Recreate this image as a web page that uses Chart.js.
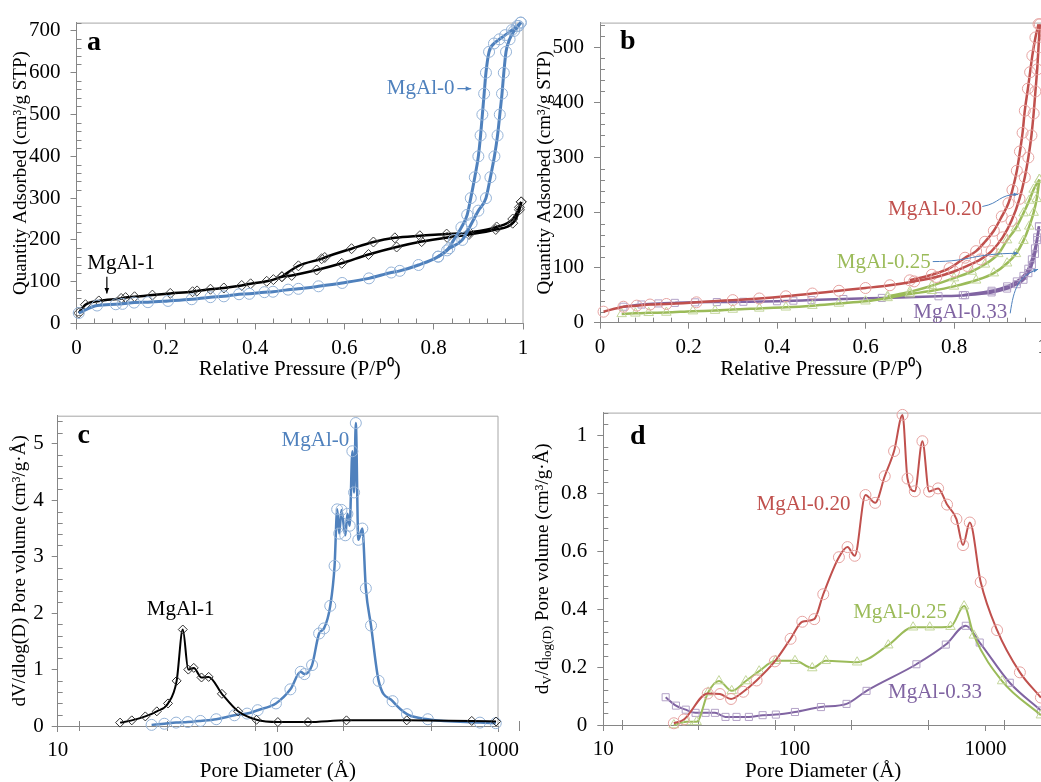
<!DOCTYPE html>
<html>
<head>
<meta charset="utf-8">
<script src="https://cdn.jsdelivr.net/npm/chart.js@4.4.0/dist/chart.umd.min.js"></script>
<style>
html, body { margin: 0; padding: 0; background: #fff; overflow: hidden; }
#wrap { position: relative; width: 1041px; height: 782px; overflow: hidden; }
canvas { position: absolute; }
</style>
</head>
<body>
<div id="wrap">
  <canvas id="chartA" width="535" height="390" style="left:0;top:0"></canvas>
  <canvas id="chartB" width="535" height="390" style="left:525px;top:0"></canvas>
  <canvas id="chartC" width="525" height="392" style="left:0;top:390px"></canvas>
  <canvas id="chartD" width="535" height="392" style="left:525px;top:390px"></canvas>
</div>
<script>
// ---------- panel a : isotherms, MgAl-0 / MgAl-1 ----------
const aXTicks = [0, 0.2, 0.4, 0.6, 0.8, 1];
const aYTicks = [0, 100, 200, 300, 400, 500, 600, 700];
const aMgAl0Ads = [[0.005,25],[0.046,43],[0.088,46],[0.103,47],[0.129,50],[0.16,51],[0.205,54],[0.258,58],[0.30,63],[0.33,65],[0.364,70],[0.387,71],[0.421,75],[0.44,76],[0.474,81],[0.497,83],[0.542,89],[0.595,97],[0.655,108],[0.705,122],[0.724,126],[0.766,140],[0.81,160],[0.835,180],[0.864,200],[0.885,240],[0.9,270],[0.917,300],[0.927,350],[0.936,400],[0.943,450],[0.948,500],[0.953,550],[0.957,600],[0.962,650],[0.97,680],[0.98,700],[0.99,712],[0.995,720]];
const aMgAl0Des = [[0.81,160],[0.83,175],[0.845,200],[0.862,230],[0.875,260],[0.883,300],[0.892,350],[0.9,400],[0.905,450],[0.909,500],[0.913,550],[0.917,600],[0.924,650],[0.935,670],[0.947,680],[0.96,690],[0.975,702],[0.987,712],[0.995,720]];
const aMgAl1Ads = [[0.005,25],[0.02,45],[0.05,54],[0.1,60],[0.11,62],[0.13,64],[0.17,68],[0.21,72],[0.26,76],[0.27,78],[0.3,82],[0.33,85],[0.37,91],[0.39,95],[0.426,101],[0.441,105],[0.46,112],[0.482,115],[0.538,128],[0.594,144],[0.654,165],[0.717,183],[0.773,196],[0.83,206],[0.879,213],[0.939,225],[0.977,240],[0.992,272],[0.996,291]];
const aMgAl1Des = [[0.46,112],[0.497,138],[0.549,155],[0.556,158],[0.616,179],[0.665,195],[0.713,205],[0.769,210],[0.829,214],[0.88,218],[0.941,231],[0.977,250],[0.992,278],[0.996,291]];

// ---------- panel b : isotherms, MgAl-0.20 / 0.25 / 0.33 ----------
const bXTicks = [0, 0.2, 0.4, 0.6, 0.8, 1];
const bYTicks = [0, 100, 200, 300, 400, 500];
const b020Ads = [[0.008,20],[0.053,29],[0.083,31],[0.113,33],[0.15,34],[0.218,37],[0.3,41],[0.36,44],[0.42,48],[0.48,53],[0.54,58],[0.6,63],[0.655,68],[0.71,75],[0.76,83],[0.8,93],[0.83,103],[0.86,115],[0.885,130],[0.91,155],[0.93,185],[0.948,225],[0.96,264],[0.968,300],[0.975,340],[0.98,380],[0.984,420],[0.988,460],[0.991,500],[0.994,542]];
const b020Des = [[0.7,77],[0.75,87],[0.79,99],[0.825,118],[0.85,130],[0.87,147],[0.89,167],[0.908,193],[0.923,217],[0.932,241],[0.942,276],[0.949,311],[0.955,345],[0.96,385],[0.967,425],[0.972,455],[0.977,485],[0.984,518],[0.991,542]];
const b025Ads = [[0.049,16],[0.08,17],[0.11,18],[0.15,18.5],[0.21,21],[0.26,22],[0.3,24],[0.36,26],[0.42,28],[0.48,31],[0.54,35],[0.6,39],[0.65,45],[0.7,52],[0.75,58],[0.8,66],[0.85,77],[0.89,90],[0.92,108],[0.94,125],[0.957,149],[0.97,175],[0.98,200],[0.987,225],[0.993,260]];
const b025Des = [[0.65,48],[0.7,56],[0.75,67],[0.8,81],[0.84,93],[0.87,106],[0.9,125],[0.92,150],[0.94,172],[0.957,199],[0.97,222],[0.98,242],[0.993,260]];
const b033Ads = [[0.053,29],[0.094,33],[0.132,35],[0.169,36],[0.215,37],[0.264,37.5],[0.324,38],[0.4,39],[0.437,40],[0.478,41],[0.55,43],[0.637,45],[0.765,48],[0.825,50],[0.885,55],[0.92,62],[0.942,70],[0.957,78],[0.968,90],[0.976,105],[0.983,125],[0.988,150],[0.992,175]];
const b033Des = [[0.82,50],[0.885,58],[0.92,66],[0.942,75],[0.957,85],[0.968,98],[0.976,115],[0.983,135],[0.988,155],[0.992,175]];

// ---------- panel c : pore size distribution, MgAl-0 / MgAl-1 ----------
const logTicks = [10, 100, 1000];
const logMinor = [12.5, 31.4, 78.9, 198, 498, 1250];
const cYTicks = [0, 1, 2, 3, 4, 5];
const cMgAl1 = [[19.2,0.06],[21.7,0.1],[25,0.17],[28.2,0.26],[31.7,0.4],[34.7,0.8],[37,1.71],[39.2,1.0],[41.5,1.03],[45,0.86],[48.5,0.87],[55.7,0.57],[66,0.26],[80,0.11],[100,0.07],[137,0.07],[205,0.1],[385,0.1],[760,0.09],[980,0.08]];
const cMgAl0 = [[26.7,0.02],[30.5,0.04],[34.5,0.06],[39,0.07],[44.5,0.09],[52.5,0.12],[63.5,0.19],[72.5,0.22],[81,0.28],[98,0.40],[114,0.65],[127,0.96],[132,0.92],[143,1.08],[154,1.64],[162,1.73],[173,2.13],[181,2.84],[186,3.84],[190,3.41],[194.5,3.83],[202.5,3.38],[207,3.76],[212,3.55],[218,4.87],[222,4.14],[226,5.37],[232,3.30],[242,3.50],[251,2.44],[265,1.78],[287,0.80],[332,0.44],[386,0.21],[480,0.12],[828,0.06],[977,0.05]];

// ---------- panel d : pore size distribution, MgAl-0.20 / 0.25 / 0.33 ----------
const dYTicks = [0, 0.2, 0.4, 0.6, 0.8, 1];
const d020 = [[23.4,0.006],[26.4,0.019],[35.2,0.109],[40.8,0.107],[46.6,0.09],[54,0.115],[63.4,0.154],[79,0.22],[95.5,0.298],[110,0.357],[127,0.366],[141.6,0.452],[171,0.58],[189.7,0.615],[207,0.585],[235.5,0.795],[264.6,0.768],[297,0.86],[332.4,0.947],[368,1.072],[390.8,0.852],[426.7,0.808],[467.7,0.981],[507,0.807],[565,0.818],[629.5,0.762],[704.7,0.712],[763,0.622],[827.6,0.70],[944,0.494],[1150,0.328],[1514,0.182],[1950,0.095]];
const d025 = [[23.4,0.0],[27.3,0.011],[30.8,0.011],[35.4,0.113],[40.3,0.152],[47,0.118],[55.7,0.152],[65.4,0.186],[79.8,0.222],[100.7,0.222],[124,0.197],[146,0.222],[213,0.217],[310,0.276],[418,0.338],[511,0.338],[656,0.34],[773,0.411],[869,0.31],[1222,0.152],[1950,0.034]];
const d033 = [[21.2,0.096],[24,0.067],[27,0.053],[30.4,0.042],[34.3,0.042],[38.4,0.042],[43.6,0.028],[49.8,0.028],[57.8,0.028],[68.2,0.034],[80,0.036],[100.7,0.045],[137.7,0.062],[187.5,0.073],[238.5,0.118],[435,0.21],[620,0.278],[789,0.343],[933,0.285],[1340,0.146],[1950,0.05]];

const FONT = '"Liberation Serif", "Times New Roman", serif';
Chart.defaults.font.family = FONT;
Chart.defaults.color = '#000';

const BLUE = '#4f81bd', BLUE_M = '#95b3d7';
const RED = '#c0504d', RED_M = '#e6a3a1';
const GREEN = '#9bbb59', GREEN_M = '#c3d69b';
const PURPLE = '#8064a2', PURPLE_M = '#b3a2c7';
const AXIS = '#868686';
const TICK_SIZE = 21;

function series(data, line, mark, style, r, lw) {
    return {
        data: data.map(p => ({ x: p[0], y: p[1] })),
        showLine: true,
        borderColor: line,
        borderWidth: lw,
        cubicInterpolationMode: 'monotone',
        pointStyle: style,
        pointRadius: r,
        pointBorderColor: mark,
        pointBackgroundColor: 'rgba(0,0,0,0)',
        pointBorderWidth: 1,
        clip: false
    };
}

function axis(o) {
    return {
        type: o.type || 'linear',
        min: o.min,
        max: o.max,
        border: { color: AXIS },
        grid: { drawOnChartArea: false, color: AXIS, tickLength: 6 },
        ticks: { font: { size: TICK_SIZE }, padding: o.pad, color: '#000', callback: v => String(v) },
        afterBuildTicks: s => { s.ticks = o.ticks.map(v => ({ value: v })); },
        afterFit: s => { if (o.h) s.height = o.h; if (o.w) s.width = o.w; },
        title: o.title ? {
            display: true, text: o.title, color: '#000',
            font: { size: o.ts, lineHeight: 1 },
            padding: o.tpad
        } : { display: false }
    };
}

// top and right frame lines, minor ticks
const framePlugin = {
    id: 'frame',
    beforeDatasetsDraw(chart, args, opts) {
        const { ctx, chartArea: c, scales: { x, y } } = chart;
        ctx.save();
        ctx.strokeStyle = '#a6a6a6';
        ctx.lineWidth = 1;
        ctx.beginPath();
        ctx.moveTo(c.left, c.top + 0.5);
        ctx.lineTo(c.right, c.top + 0.5);
        ctx.lineTo(c.right, c.bottom);
        ctx.stroke();
        ctx.strokeStyle = AXIS;
        ctx.beginPath();
        (opts.x || []).forEach(v => {
            const px = Math.round(x.getPixelForValue(v)) + 0.5;
            ctx.moveTo(px, c.bottom - 5);
            ctx.lineTo(px, c.bottom + (opts.cross ? 5 : 0));
        });
        (opts.y || []).forEach(v => {
            const py = Math.round(y.getPixelForValue(v)) + 0.5;
            ctx.moveTo(c.left, py);
            ctx.lineTo(c.left + 5, py);
        });
        ctx.stroke();
        ctx.restore();
    }
};

// labels, arrows and the panel letter
const notePlugin = {
    id: 'notes',
    afterDatasetsDraw(chart, args, opts) {
        const { ctx, scales: { x, y } } = chart;
        ctx.save();
        (opts.texts || []).forEach(t => {
            ctx.font = t.font || ('21px ' + FONT);
            ctx.fillStyle = t.color;
            ctx.textAlign = 'left';
            ctx.textBaseline = t.base || 'middle';
            ctx.fillText(t.text, x.getPixelForValue(t.x), y.getPixelForValue(t.y));
        });
        (opts.arrows || []).forEach(a => {
            const p = a.pts.map(q => [x.getPixelForValue(q[0]), y.getPixelForValue(q[1])]);
            ctx.strokeStyle = a.color;
            ctx.fillStyle = a.color;
            ctx.lineWidth = a.lw || 1;
            ctx.beginPath();
            ctx.moveTo(p[0][0], p[0][1]);
            if (p.length === 4) ctx.bezierCurveTo(p[1][0], p[1][1], p[2][0], p[2][1], p[3][0], p[3][1]);
            else ctx.lineTo(p[p.length - 1][0], p[p.length - 1][1]);
            ctx.stroke();
            const e = p[p.length - 1], s = p[p.length - 2];
            const ang = Math.atan2(e[1] - s[1], e[0] - s[0]);
            const hl = a.head || 6;
            ctx.beginPath();
            ctx.moveTo(e[0], e[1]);
            ctx.lineTo(e[0] - hl * Math.cos(ang - 0.4), e[1] - hl * Math.sin(ang - 0.4));
            ctx.lineTo(e[0] - hl * Math.cos(ang + 0.4), e[1] - hl * Math.sin(ang + 0.4));
            ctx.closePath();
            ctx.fill();
        });
        ctx.restore();
    }
};

// y title with subscripts (panel d)
const subTitlePlugin = {
    id: 'subTitle',
    afterDraw(chart, args, opts) {
        if (!opts.parts) return;
        const { ctx, chartArea: c } = chart;
        ctx.save();
        ctx.translate(opts.x, (c.top + c.bottom) / 2);
        ctx.rotate(-Math.PI / 2);
        ctx.fillStyle = '#000';
        ctx.textBaseline = 'middle';
        ctx.textAlign = 'left';
        let total = 0;
        opts.parts.forEach(p => { ctx.font = p.s + 'px ' + FONT; total += ctx.measureText(p.t).width; });
        let cx = -total / 2;
        opts.parts.forEach(p => {
            ctx.font = p.s + 'px ' + FONT;
            ctx.fillText(p.t, cx, p.dy || 0);
            cx += ctx.measureText(p.t).width;
        });
        ctx.restore();
    }
};

function makeChart(id, datasets, scales, padding, plugins) {
    return new Chart(document.getElementById(id), {
        type: 'scatter',
        data: { datasets },
        options: {
            responsive: false,
            animation: false,
            devicePixelRatio: 1,
            layout: { padding },
            scales,
            plugins: Object.assign({ legend: { display: false }, tooltip: { enabled: false } }, plugins)
        },
        plugins: [framePlugin, notePlugin, subTitlePlugin]
    });
}

// ===========================
// a
// ===========================
makeChart('chartA', [
    series(aMgAl0Ads, BLUE, BLUE_M, 'circle', 5.5, 3),
    series(aMgAl0Des, BLUE, BLUE_M, 'circle', 5.5, 3),
    series(aMgAl1Ads, '#000', '#404040', 'rectRot', 5, 2.5),
    series(aMgAl1Des, '#000', '#404040', 'rectRot', 5, 2.5)
], {
    x: axis({ min: 0, max: 1, ticks: aXTicks, pad: 6, h: 66.5, title: 'Relative Pressure (P/P\u2070)', ts: 21, tpad: { bottom: 10 } }),
    y: axis({ min: 0, max: 720, ticks: aYTicks, pad: 10, w: 76.5, title: 'Quantity Adsorbed (cm\u00b3/g STP)', ts: 19, tpad: { top: 11.5 } })
}, { top: 14, right: 12, left: 0, bottom: 0 }, {
    frame: { x: [0.04,0.08,0.12,0.16,0.24,0.28,0.32,0.36,0.44,0.48,0.52,0.56,0.64,0.68,0.72,0.76,0.84,0.88,0.92,0.96],
             y: [20,40,60,80,120,140,160,180,220,240,260,280,320,340,360,380,420,440,460,480,520,540,560,580,620,640,660,680,720] },
    notes: {
        texts: [
            { text: 'a', x: 0.0235, y: 655, color: '#000', font: 'bold 28px ' + FONT, base: 'alphabetic' },
            { text: 'MgAl-0', x: 0.695, y: 562, color: BLUE },
            { text: 'MgAl-1', x: 0.024, y: 143, color: '#000' }
        ],
        arrows: [
            { pts: [[0.853, 562], [0.884, 562]], color: BLUE, lw: 1.2, head: 6 },
            { pts: [[0.068, 112], [0.068, 72]], color: '#000', lw: 1.2, head: 6 }
        ]
    }
});

// ===========================
// b
// ===========================
makeChart('chartB', [
    series(b020Ads, RED, RED_M, 'circle', 5.5, 2.5),
    series(b020Des, RED, RED_M, 'circle', 5.5, 2.5),
    series(b025Ads, GREEN, GREEN_M, 'triangle', 5.5, 2.5),
    series(b025Des, GREEN, GREEN_M, 'triangle', 5.5, 2.5),
    series(b033Ads, PURPLE, PURPLE_M, 'rect', 5, 2.5),
    series(b033Des, PURPLE, PURPLE_M, 'rect', 5, 2.5)
], {
    x: axis({ min: 0, max: 1, ticks: bXTicks, pad: 6, h: 67.3, title: 'Relative Pressure (P/P\u2070)', ts: 21, tpad: { bottom: 10 } }),
    y: axis({ min: 0, max: 545, ticks: bYTicks, pad: 10, w: 75, title: 'Quantity Adsorbed (cm\u00b3/g STP)', ts: 19, tpad: { top: 10.5 } })
}, { top: 14.7, right: 17.5, left: 0, bottom: 0 }, {
    frame: { x: [0.04,0.08,0.12,0.16,0.24,0.28,0.32,0.36,0.44,0.48,0.52,0.56,0.64,0.68,0.72,0.76,0.84,0.88,0.92,0.96],
             y: [20,40,60,80,120,140,160,180,220,240,260,280,320,340,360,380,420,440,460,480,520,540] },
    notes: {
        texts: [
            { text: 'b', x: 0.045, y: 497, color: '#000', font: 'bold 28px ' + FONT, base: 'alphabetic' },
            { text: 'MgAl-0.20', x: 0.651, y: 205, color: RED },
            { text: 'MgAl-0.25', x: 0.535, y: 109, color: GREEN },
            { text: 'MgAl-0.33', x: 0.708, y: 19, color: PURPLE }
        ],
        arrows: [
            { pts: [[0.864, 211], [0.905, 217], [0.9, 233], [0.945, 233]], color: BLUE, lw: 1, head: 5 },
            { pts: [[0.752, 111], [0.84, 111], [0.84, 126], [0.945, 126]], color: BLUE, lw: 1, head: 5 },
            { pts: [[0.927, 17], [0.935, 62], [0.945, 85], [0.99, 97]], color: BLUE, lw: 1, head: 5 }
        ]
    }
});

// ===========================
// c
// ===========================
makeChart('chartC', [
    series(cMgAl1, '#000', '#303030', 'rectRot', 4.5, 2),
    series(cMgAl0, BLUE, BLUE_M, 'circle', 5.5, 2.5)
], {
    x: axis({ type: 'logarithmic', min: 10, max: 1000, ticks: logTicks, pad: 6, h: 56, title: 'Pore Diameter (\u00c5)', ts: 21, tpad: { bottom: 0 } }),
    y: axis({ min: 0, max: 5.5, ticks: cYTicks, pad: 8, w: 57.7, title: 'dV/dlog(D) Pore volume (cm\u00b3/g\u00b7\u00c5)', ts: 19, tpad: { top: 10.5 } })
}, { top: 25.7, right: 21, left: 0, bottom: 0 }, {
    frame: { cross: true, x: logMinor, y: [0.2,0.4,0.6,0.8,1.2,1.4,1.6,1.8,2.2,2.4,2.6,2.8,3.2,3.4,3.6,3.8,4.2,4.4,4.6,4.8,5.2,5.4] },
    notes: {
        texts: [
            { text: 'c', x: 12.3, y: 5.01, color: '#000', font: 'bold 28px ' + FONT, base: 'alphabetic' },
            { text: 'MgAl-1', x: 25.4, y: 2.06, color: '#000' },
            { text: 'MgAl-0', x: 104, y: 5.06, color: BLUE }
        ]
    }
});

// ===========================
// d
// ===========================
makeChart('chartD', [
    series(d020, RED, RED_M, 'circle', 5.5, 2),
    series(d025, GREEN, GREEN_M, 'triangle', 5.5, 2),
    series(d033, PURPLE, PURPLE_M, 'rect', 5, 2)
], {
    x: axis({ type: 'logarithmic', min: 10, max: 2000, ticks: logTicks, pad: 6, h: 57, title: 'Pore Diameter (\u00c5)', ts: 21, tpad: { bottom: 0 } }),
    y: axis({ min: 0, max: 1.08, ticks: dYTicks, pad: 10, w: 78.3 })
}, { top: 15, right: 17, left: 0, bottom: 0 }, {
    frame: { cross: true, x: logMinor, y: [0.04,0.08,0.12,0.16,0.24,0.28,0.32,0.36,0.44,0.48,0.52,0.56,0.64,0.68,0.72,0.76,0.84,0.88,0.92,0.96,1.04,1.08] },
    notes: {
        texts: [
            { text: 'd', x: 13.8, y: 0.973, color: '#000', font: 'bold 28px ' + FONT, base: 'alphabetic' },
            { text: 'MgAl-0.20', x: 63.4, y: 0.763, color: RED },
            { text: 'MgAl-0.25', x: 203, y: 0.388, color: GREEN },
            { text: 'MgAl-0.33', x: 309, y: 0.113, color: PURPLE }
        ]
    },
    subTitle: {
        x: 18,
        parts: [
            { t: 'd', s: 19 }, { t: 'V', s: 13, dy: 5 }, { t: '/d', s: 19 },
            { t: 'log(D)', s: 13, dy: 5 }, { t: ' Pore volume (cm\u00b3/g\u00b7\u00c5)', s: 19 }
        ]
    }
});
</script>
</body>
</html>
